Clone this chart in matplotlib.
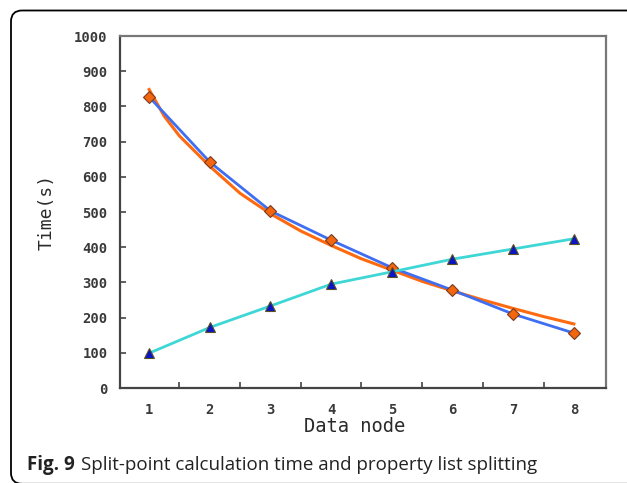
import numpy as np
import matplotlib.pyplot as plt
from matplotlib.patches import FancyBboxPatch
from matplotlib.transforms import IdentityTransform
from matplotlib.ticker import FixedLocator

# data
nodes = [1, 2, 3, 4, 5, 6, 7, 8]
calc_time = [827, 642, 503, 420, 342, 278, 210, 156]      # blue line, orange diamonds
split_time = [99, 172, 233, 295, 330, 366, 395, 424]      # cyan line, blue triangles
trend_x = [1, 1.25, 1.5, 2, 2.5, 3, 3.5, 4, 4.5, 5, 5.5, 6, 6.5, 7, 7.5, 8]
trend_y = [848, 772, 716, 630, 553, 495, 446, 405, 367, 335, 303, 276, 250, 226, 203, 182]
y_ticks = [0, 100, 200, 300, 400, 500, 600, 700, 800, 900, 1000]

W, H = 627, 483
fig = plt.figure(figsize=(W / 100, H / 100), dpi=100)

# rounded frame round the figure, bottom and right edges run off the picture
frame = FancyBboxPatch((11, -0.8), 660, H - 9.7, boxstyle='round,pad=0,rounding_size=11',
                       transform=IdentityTransform(), fill=False, ec='black', lw=1.3)
fig.patches.append(frame)

ax = fig.add_axes([120 / W, 1 - 388 / H, (606 - 120) / W, (388 - 36) / H])

ax.plot(trend_x, trend_y, color='#ff6a10', lw=2.2, zorder=2)
ax.plot(nodes, calc_time, color='#3f6ff0', lw=2.0, zorder=3,
        marker='D', ms=6.5, mfc='#f2660f', mec='#7a3b20', mew=0.8)
ax.plot(nodes, split_time, color='#3fd6d6', lw=2.0, zorder=3,
        marker='^', ms=7, mfc='#0a14c8', mec='#5a5020', mew=0.8)

ax.set_xlim(0.52, 8.53)
ax.set_ylim(0, 1000)
ax.set_yticks(y_ticks)
ax.set_xticks(nodes)
ax.xaxis.set_minor_locator(FixedLocator(np.arange(1.5, 8, 1)))

mono = 'DejaVu Sans Mono'
ax.tick_params(axis='x', which='major', length=0, pad=11)
ax.tick_params(axis='x', which='minor', direction='in', length=4, width=1.2, color='#444444')
ax.tick_params(axis='y', direction='in', length=4, width=1.2, color='#444444', pad=9)
for lab in ax.get_xticklabels() + ax.get_yticklabels():
    lab.set_fontfamily(mono)
    lab.set_fontweight('bold')
    lab.set_fontsize(10)
    lab.set_color('#3a3a3a')

for side in ['left', 'bottom']:
    ax.spines[side].set_color('#444444')
    ax.spines[side].set_linewidth(1.6)
for side in ['top', 'right']:
    ax.spines[side].set_color('#777777')
    ax.spines[side].set_linewidth(1.6)

fig.text(47 / W, 1 - 212 / H, 'Time(s)', rotation=90, ha='center', va='center',
         family=mono, fontsize=13, color='#2a2a2a')
fig.text(355 / W, 1 - 427 / H, 'Data node', ha='center', va='center',
         family=mono, fontsize=13.5, color='#2a2a2a')

# caption: bold figure number, then the plain text right after it
fig_no = fig.text(27 / W, 1 - 470 / H, 'Fig. 9', ha='left', va='baseline',
                  family='Open Sans', fontweight='bold', fontsize=13.5, color='#222222')
r = fig.canvas.get_renderer()
x_end = fig_no.get_window_extent(r).x1
fig.text((x_end + 6) / W, 1 - 470 / H, 'Split-point calculation time and property list splitting',
         ha='left', va='baseline', family='Open Sans', fontsize=13.5, color='#222222')

fig.savefig('out.png', dpi=100)
